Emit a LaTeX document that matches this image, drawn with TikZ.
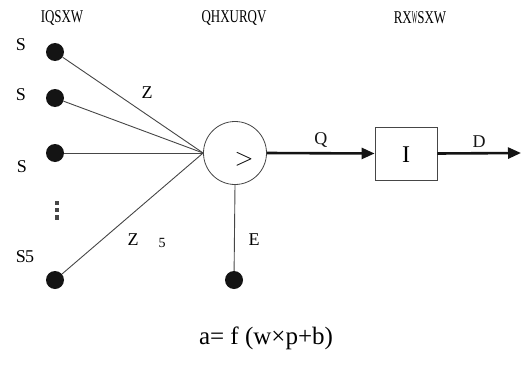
\documentclass[tikz,border=0pt]{standalone}
\usepackage{fontspec}
\setmainfont{Liberation Serif}
\usepackage{tikz}
\usetikzlibrary{arrows.meta, positioning}
\definecolor{mydark}{RGB}{20,20,20}
\definecolor{mywire}{RGB}{70,70,70}
\tikzset{
  dot/.style={circle, fill=mydark, inner sep=0pt, minimum size=18pt},
  neuron/.style={circle, draw=mywire, line width=0.8pt, minimum size=63pt, inner sep=0pt},
  fbox/.style={rectangle, draw=mywire, line width=0.8pt, minimum width=62pt, minimum height=53pt},
  head/.style={font=\fontsize{18}{18}\selectfont},
  lbl/.style={font=\fontsize{18}{18}\selectfont},
  wire/.style={line width=0.9pt, color=mywire},
  arrow/.style={-{Triangle[length=13pt,width=11pt]}, line width=2.6pt, color=mydark}
}
\newcommand{\squash}[1]{\scalebox{0.72}[1]{#1}}
\begin{document}
\begin{tikzpicture}[x=1pt, y=-1pt]
  \useasboundingbox (0,0) rectangle (521,369);

  % column headings
  \node[head] (hin) at (62,18) {\squash{IQSXW}};
  \node[head] (hneu) at (234,18) {\squash{QHXURQV}};
  \node[head] (hout) at (420,18) {\squash{RX\scalebox{0.45}[1]{W}SXW}};

  % inputs
  \node[dot] (p1) at (55,52) {};
  \node[dot] (p2) at (55,98) {};
  \node[dot] (p3) at (55,153) {};
  \node[dot] (pr) at (55,280) {};
  \node[lbl] (l1) at (21,45) {S};
  \node[lbl] (l2) at (21,95) {S};
  \node[lbl] (l3) at (22,167) {S};
  \node[lbl] (lr) at (25,257) {S\kern-1pt 5};
  % broken dots glyph
  \fill[mywire] (55,201) rectangle (59,205);
  \fill[mywire] (55,208) rectangle (59,212);
  \fill[mywire] (55,215) rectangle (59,220);

  % neuron, transfer function
  \node[neuron] (sum) at (235,153) {};
  \node[font=\fontsize{24}{24}\selectfont] (sig) at (244,159) {$>$};
  \node[fbox] (tf) at (406,153.5) {};
  \node[font=\fontsize{24}{24}\selectfont] (fl) at (406,155) {I};
  \node[dot] (b) at (234,280) {};
  \coordinate (out) at (521,153);

  % weights
  \draw[wire] (p1) -- (sum.west);
  \draw[wire] (p2) -- (sum.west);
  \draw[wire] (p3) -- (sum.west);
  \draw[wire] (pr) -- (sum.west);
  \draw[wire] (b) -- (sum.south);
  \node[lbl] (w1) at (147,93) {Z};
  \node[lbl] (wr) at (133,240) {Z};
  \node[font=\fontsize{14}{14}\selectfont] (wri) at (162,243) {5};
  \node[lbl] (bl) at (254,240) {E};

  % outputs
  \draw[arrow] (sum.east) -- node[lbl, above=1pt] {Q} (tf.west);
  \draw[arrow] (tf.east) -- node[lbl, above=1pt] {D} (out);

  \node[font=\fontsize{25}{25}\selectfont] (eq) at (266,338) {a= f (w×p+b)};
\end{tikzpicture}
\end{document}
